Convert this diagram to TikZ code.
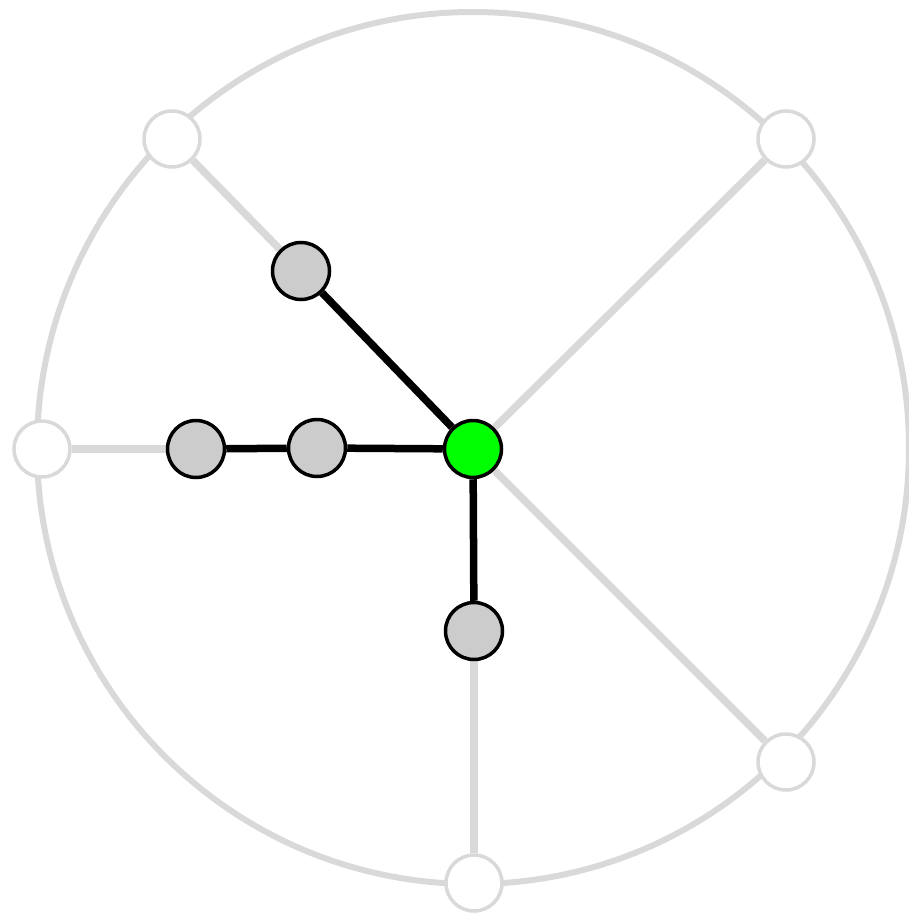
\documentclass[tikz,border=0pt]{standalone}
\usepackage{tikz}
\usetikzlibrary{positioning, backgrounds}
\definecolor{RingGray}{HTML}{D9D9D9}
\definecolor{NodeGray}{HTML}{CCCCCC}
\definecolor{RootGreen}{HTML}{00FF00}
\tikzset{
    % Outer ring node
    ringnode/.style={
        circle,
        draw=RingGray,
        fill=white,
        line width=3.5pt,
        minimum size=56pt,
        inner sep=0pt
    },
    % Tree node
    treenode/.style={
        circle,
        draw=black,
        fill=NodeGray,
        line width=3.5pt,
        minimum size=57pt,
        inner sep=0pt
    },
    % Root node
    rootnode/.style={
        treenode,
        fill=RootGreen
    },
    % Unused edge
    faint/.style={
        draw=RingGray,
        line width=7.5pt
    },
    % Tree edge
    treeedge/.style={
        draw=black,
        line width=7.5pt
    }
}
\begin{document}
\begin{tikzpicture}[x=1pt, y=-1pt]
    \useasboundingbox (0,0) rectangle (908,917);

    % Nodes
    \node (root) [rootnode] at (473,449) {};
    \node (a) [treenode] at (301,271) {};
    \node (b) [treenode] at (317,448) {};
    \node (c) [treenode] at (196,449) {};
    \node (d) [treenode] at (474,631) {};
    \node (r1) [ringnode] at (172,139) {};
    \node (r2) [ringnode] at (786,139) {};
    \node (r3) [ringnode] at (42,449) {};
    \node (r4) [ringnode] at (786,762) {};
    \node (r5) [ringnode] at (474,883) {};

    % Ring and edges
    \begin{scope}[on background layer]
        \draw [RingGray, line width=6pt] (473,448) circle (436);
        \draw [faint] (root) -- (r2);
        \draw [faint] (root) -- (r4);
        \draw [faint] (a) -- (r1);
        \draw [faint] (c) -- (r3);
        \draw [faint] (d) -- (r5);
        \draw [treeedge] (root) -- (a);
        \draw [treeedge] (root) -- (b);
        \draw [treeedge] (b) -- (c);
        \draw [treeedge] (root) -- (d);
    \end{scope}
\end{tikzpicture}
\end{document}
